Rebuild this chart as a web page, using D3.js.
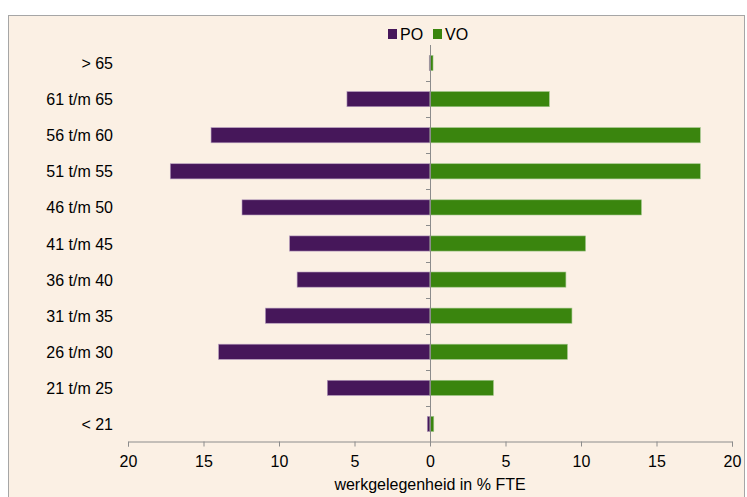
<!DOCTYPE html>
<html>
<head>
<meta charset="utf-8">
<script src="https://cdn.jsdelivr.net/npm/d3@7"></script>
<style>
  body { margin: 0; background: #fff; }
  text { font-family: "Liberation Sans", Arial, sans-serif; fill: #000; }
</style>
</head>
<body>
<script>
// age groups, top to bottom
var categories = ["> 65", "61 t/m 65", "56 t/m 60", "51 t/m 55", "46 t/m 50",
    "41 t/m 45", "36 t/m 40", "31 t/m 35", "26 t/m 30", "21 t/m 25", "< 21"];
// share of FTE per group
var poValues = [0.05, 5.5, 14.5, 17.2, 12.45, 9.3, 8.8, 10.9, 14.0, 6.8, 0.18];
var voValues = [0.2, 7.9, 17.9, 17.9, 14.0, 10.3, 9.0, 9.4, 9.1, 4.2, 0.25];
var xTicks = [-20, -15, -10, -5, 0, 5, 10, 15, 20];

var width = 747, height = 497;
var svg = d3.select("body").append("svg")
    .attr("width", width)
    .attr("height", height);

// chart area background
svg.append("rect")
    .attr("x", 8.5).attr("y", 15.5)
    .attr("width", 736).attr("height", 500)
    .attr("fill", "#FBF0E4")
    .attr("stroke", "#A6A6A6");

var x = d3.scaleLinear().domain([-20, 20]).range([128, 732]);
var y = d3.scaleBand().domain(categories).range([45, 442]).paddingInner(0.58).paddingOuter(0.29);

// PO bars (left)
svg.selectAll(".po")
    .data(categories)
    .enter()
    .append("rect")
    .attr("class", "po")
    .attr("x", function(d, i) { return x(-poValues[i]); })
    .attr("y", function(d) { return y(d); })
    .attr("width", function(d, i) { return x(0) - x(-poValues[i]); })
    .attr("height", y.bandwidth())
    .attr("fill", "#46175A")
    .attr("stroke", "#B59CBE")
    .attr("stroke-width", 0.6);

// VO bars (right)
svg.selectAll(".vo")
    .data(categories)
    .enter()
    .append("rect")
    .attr("class", "vo")
    .attr("x", x(0))
    .attr("y", function(d) { return y(d); })
    .attr("width", function(d, i) { return x(voValues[i]) - x(0); })
    .attr("height", y.bandwidth())
    .attr("fill", "#3A850E")
    .attr("stroke", "#9DC487")
    .attr("stroke-width", 0.6);

// x axis
var xAxis = svg.append("g")
    .attr("transform", "translate(0,441.5)")
    .call(d3.axisBottom(x).tickValues(xTicks).tickSize(5).tickPadding(9)
        .tickFormat(function(d) { return Math.abs(d); }));
xAxis.select(".domain").attr("stroke", "#8C8C8C");
xAxis.selectAll(".tick line").attr("stroke", "#8C8C8C");
xAxis.selectAll("text").attr("font-size", "16px").attr("font-family", "Liberation Sans, Arial, sans-serif");

// y axis at zero
var step = y.step();
var sep = d3.range(1, categories.length).map(function(i) { return 45 + step * i; });
svg.append("line")
    .attr("x1", x(0) + 0.5).attr("x2", x(0) + 0.5)
    .attr("y1", 45).attr("y2", 442)
    .attr("stroke", "#8C8C8C");
svg.selectAll(".ytick")
    .data(sep)
    .enter()
    .append("line")
    .attr("x1", x(0) - 4).attr("x2", x(0))
    .attr("y1", function(d) { return Math.round(d) + 0.5; })
    .attr("y2", function(d) { return Math.round(d) + 0.5; })
    .attr("stroke", "#8C8C8C");

// category labels
svg.selectAll(".cat")
    .data(categories)
    .enter()
    .append("text")
    .attr("x", 113)
    .attr("y", function(d) { return y(d) + y.bandwidth() / 2 + 6; })
    .attr("text-anchor", "end")
    .attr("font-size", "16px")
    .text(function(d) { return d; });

// axis title
svg.append("text")
    .attr("x", x(0))
    .attr("y", 490)
    .attr("text-anchor", "middle")
    .attr("font-size", "16px")
    .text("werkgelegenheid in % FTE");

// legend
var legend = [{ name: "PO", color: "#46175A", x: 388 }, { name: "VO", color: "#3A850E", x: 433 }];
legend.forEach(function(l) {
    svg.append("rect")
        .attr("x", l.x).attr("y", 29)
        .attr("width", 9).attr("height", 10)
        .attr("fill", l.color);
    svg.append("text")
        .attr("x", l.x + 12).attr("y", 40)
        .attr("font-size", "16px")
        .text(l.name);
});
</script>
</body>
</html>
